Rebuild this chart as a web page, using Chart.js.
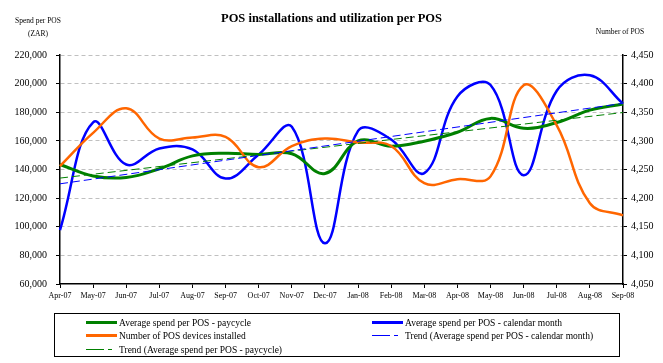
<!DOCTYPE html>
<html><head><meta charset="utf-8">
<script src="https://cdn.jsdelivr.net/npm/chart.js@4.4.0/dist/chart.umd.min.js"></script>
<style>
html,body{margin:0;padding:0;background:#fff;}
#wrap{position:relative;width:663px;height:363px;overflow:hidden;font-family:'Liberation Serif','Times New Roman',serif;color:#000;}
canvas{position:absolute;left:0;top:0;}
.t{position:absolute;white-space:nowrap;line-height:1;}
#legend{position:absolute;left:54px;top:313px;width:566px;height:44px;border:1px solid #000;box-sizing:border-box;}
.li{position:absolute;height:12px;font-size:9.5px;line-height:12px;white-space:nowrap;}
.sw{position:absolute;top:5px;height:0;}
</style></head><body>
<div id="wrap">
<canvas id="c" width="663" height="363"></canvas>
<div class="t" style="left:0;width:663px;text-align:center;top:12px;font-size:12.5px;font-weight:bold;">POS installations and utilization per POS</div>
<div class="t" style="left:14px;width:48px;text-align:center;top:17px;font-size:7.5px;">Spend per POS</div>
<div class="t" style="left:14px;width:48px;text-align:center;top:30px;font-size:7.5px;">(ZAR)</div>
<div class="t" style="left:590px;width:60px;text-align:center;top:28px;font-size:7.5px;">Number of POS</div>
<div id="legend">
  <div class="li" style="left:31px;top:3px;"><span class="sw" style="left:0;width:31px;border-top:3px solid #008000;top:4px;"></span><span style="position:absolute;left:33px;">Average spend per POS - paycycle</span></div>
  <div class="li" style="left:31px;top:16px;"><span class="sw" style="left:0;width:31px;border-top:3px solid #ff6600;top:4px;"></span><span style="position:absolute;left:33px;">Number of POS devices installed</span></div>
  <div class="li" style="left:31px;top:30px;"><span class="sw" style="left:0;width:18px;border-top:1px solid #008000;"></span><span class="sw" style="left:22px;width:4px;border-top:1px solid #008000;"></span><span style="position:absolute;left:33px;">Trend (Average spend per POS - paycycle)</span></div>
  <div class="li" style="left:317px;top:3px;"><span class="sw" style="left:0;width:31px;border-top:3px solid #0000ff;top:4px;"></span><span style="position:absolute;left:33px;">Average spend per POS - calendar month</span></div>
  <div class="li" style="left:317px;top:16px;"><span class="sw" style="left:0;width:18px;border-top:1px solid #0000ff;"></span><span class="sw" style="left:22px;width:4px;border-top:1px solid #0000ff;"></span><span style="position:absolute;left:33px;">Trend (Average spend per POS - calendar month)</span></div>
</div>
</div>
<script>
const months = ['Apr-07','May-07','Jun-07','Jul-07','Aug-07','Sep-07','Oct-07','Nov-07','Dec-07','Jan-08','Feb-08','Mar-08','Apr-08','May-08','Jun-08','Jul-08','Aug-08','Sep-08'];
const spendPaycycle = [143500,135500,134400,140500,149500,151400,150500,151000,137200,160000,156300,159800,166000,175700,168800,172800,181500,185800];
const spendCalendar = [97700,173000,143500,154700,154000,133700,150500,169800,88400,167000,161000,137500,191000,199000,136000,195000,205800,186000];
const posDevices = [4256,4314,4357,4304,4306,4307,4254,4291,4304,4297,4291,4226,4233,4238,4397,4327,4191,4170];
const trendCalendarEnds = [130000,186200];
const trendPaycycleEnds = [134000,179800];
const spendTicks = {min:60000,max:220000,step:20000};
const posTicks = {min:4050,max:4450,step:50};

const first = months[0], last = months[months.length-1];
const FONT = "'Liberation Serif','Times New Roman',serif";
Chart.defaults.font.family = FONT;
Chart.defaults.color = '#000';

new Chart(document.getElementById('c'), {
  type:'line',
  data:{
    labels: months,
    datasets:[
      {label:'Trend (Average spend per POS - calendar month)', data:[{x:first,y:trendCalendarEnds[0]},{x:last,y:trendCalendarEnds[1]}], borderColor:'#0000ff', borderWidth:1, borderDash:[8,4], pointRadius:0, tension:0, yAxisID:'y'},
      {label:'Trend (Average spend per POS - paycycle)', data:[{x:first,y:trendPaycycleEnds[0]},{x:last,y:trendPaycycleEnds[1]}], borderColor:'#008000', borderWidth:1, borderDash:[8,4], pointRadius:0, tension:0, yAxisID:'y'},
      {label:'Number of POS devices installed', data:posDevices, borderColor:'#ff6600', borderWidth:2.5, pointRadius:0, tension:0.4, yAxisID:'y2'},
      {label:'Average spend per POS - paycycle', data:spendPaycycle, borderColor:'#008000', borderWidth:3, pointRadius:0, tension:0.4, yAxisID:'y'},
      {label:'Average spend per POS - calendar month', data:spendCalendar, borderColor:'#0000ff', borderWidth:2.5, pointRadius:0, tension:0.4, yAxisID:'y'}
    ]
  },
  options:{
    responsive:false, animation:false, devicePixelRatio:1,
    layout:{padding:{left:0,right:0,top:55,bottom:59}},
    plugins:{legend:{display:false}, title:{display:false}, tooltip:{enabled:false}},
    scales:{
      x:{
        type:'category', offset:false,
        grid:{drawOnChartArea:false, tickColor:'#000', tickLength:4, tickWidth:1},
        border:{color:'#000', width:1.5},
        ticks:{font:{size:8, family:FONT}, color:'#000', maxRotation:0, autoSkip:false, padding:3},
        afterFit(s){ s.height = 20; }
      },
      y:{
        position:'left', min:spendTicks.min, max:spendTicks.max,
        grid:{color:(c)=> (c.tick && c.tick.value===spendTicks.min) ? 'rgba(0,0,0,0)' : '#c0c0c0', tickColor:'#000', tickLength:4, lineWidth:1},
        border:{color:'#000', width:1.5, dash:[4,3]},
        ticks:{stepSize:spendTicks.step, font:{size:10, family:FONT}, color:'#000', padding:9,
          callback:(v)=> v.toLocaleString('en-US')},
        afterFit(s){ s.width = 60; }
      },
      y2:{
        position:'right', min:posTicks.min, max:posTicks.max,
        grid:{drawOnChartArea:false, tickColor:'#000', tickLength:4},
        border:{color:'#000', width:1.5},
        ticks:{stepSize:posTicks.step, font:{size:10, family:FONT}, color:'#000', padding:4,
          callback:(v)=> v.toLocaleString('en-US')},
        afterFit(s){ s.width = 40; }
      }
    }
  }
});
</script>
</body></html>
